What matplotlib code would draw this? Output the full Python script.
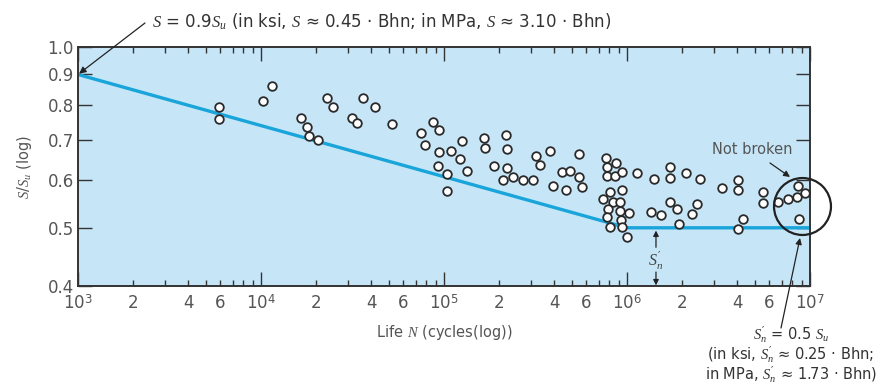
import math
import matplotlib
matplotlib.use("Agg")
import matplotlib.pyplot as plt
from matplotlib.ticker import FixedLocator, FuncFormatter, NullLocator

plt.rcParams["font.family"] = ["DejaVu Sans"]
plt.rcParams["mathtext.fontset"] = "custom"
plt.rcParams["mathtext.rm"] = "DejaVu Sans"
plt.rcParams["mathtext.it"] = "Liberation Serif:italic"

# test points: life N (cycles) and S/Su
life_N = [5.9e3, 5.9e3, 1.03e4, 1.15e4, 1.65e4, 1.78e4, 1.83e4, 2.04e4, 2.28e4, 2.48e4,
          3.13e4, 3.36e4, 3.59e4, 4.22e4, 5.2e4, 7.53e4, 7.87e4, 8.71e4, 9.35e4, 9.43e4,
          9.33e4, 1.04e5, 1.035e5, 1.09e5, 1.25e5, 1.23e5, 1.34e5, 1.65e5, 1.67e5, 1.88e5,
          2.18e5, 2.2e5, 2.21e5, 2.11e5, 2.39e5, 2.69e5, 3.05e5, 3.18e5, 3.35e5, 3.8e5,
          4.39e5, 4.91e5, 5.49e5, 5.5e5, 5.68e5, 3.96e5, 4.64e5, 7.68e5, 7.74e5, 8.71e5,
          7.78e5, 8.6e5, 9.43e5, 1.13e6, 8.12e5, 9.39e5, 7.35e5, 8.42e5, 9.16e5, 7.87e5,
          9.16e5, 1.02e6, 7.78e5, 9.3e5, 8.07e5, 9.43e5, 1.006e6, 1.4e6, 1.72e6, 1.72e6,
          2.1e6, 2.51e6, 1.36e6, 1.53e6, 1.72e6, 1.87e6, 2.4e6, 2.26e6, 1.93e6, 3.29e6,
          4.03e6, 4.03e6, 4.32e6, 4.03e6, 5.54e6, 5.54e6, 6.69e6, 7.58e6, 8.44e6, 8.55e6,
          9.39e6, 8.73e6]
s_ratio = [0.794, 0.759, 0.812, 0.860, 0.763, 0.737, 0.712, 0.699, 0.822, 0.795,
           0.763, 0.746, 0.822, 0.794, 0.743, 0.720, 0.686, 0.750, 0.728, 0.668,
           0.633, 0.614, 0.575, 0.672, 0.698, 0.650, 0.622, 0.706, 0.680, 0.633,
           0.713, 0.676, 0.628, 0.600, 0.608, 0.600, 0.600, 0.659, 0.636, 0.671,
           0.619, 0.622, 0.664, 0.608, 0.585, 0.587, 0.577, 0.653, 0.631, 0.640,
           0.611, 0.610, 0.619, 0.616, 0.574, 0.577, 0.558, 0.551, 0.552, 0.537,
           0.533, 0.530, 0.522, 0.516, 0.501, 0.501, 0.483, 0.604, 0.632, 0.606,
           0.616, 0.602, 0.532, 0.525, 0.552, 0.537, 0.548, 0.527, 0.507, 0.582,
           0.600, 0.578, 0.518, 0.498, 0.574, 0.549, 0.552, 0.558, 0.563, 0.586,
           0.571, 0.517]

# idealised S-N line
line_N = [1e3, 1e6, 1e7]
line_S = [0.9, 0.5, 0.5]

y_ticks = [0.4, 0.5, 0.6, 0.7, 0.8, 0.9, 1.0]
decades = [1e3, 1e4, 1e5, 1e6, 1e7]
minor_labels = (2, 4, 6)

W, H = 879, 387
def fp(x, y):
    # reference pixel (top-left origin) -> figure fraction
    return (x / W, 1 - y / H)

def mantissa(v):
    return int(round(v / 10 ** math.floor(math.log10(v) + 1e-9)))

fig = plt.figure(figsize=(W / 100, H / 100), dpi=100)
ax = fig.add_axes([78 / W, 1 - 286 / H, (810 - 78) / W, (286 - 47) / H])
ax.set_facecolor("#c6e6f8")

ax.plot(line_N, line_S, color="#1aa5da", lw=2.4, zorder=2)
ax.plot(life_N, s_ratio, "o", ms=6.2, mfc="white", mec="#2a2a2a", mew=1.3, zorder=3)

ax.set_xscale("log")
ax.set_yscale("log")
ax.set_xlim(1e3, 1e7)
ax.set_ylim(0.4, 1.0)

ax.xaxis.set_major_locator(FixedLocator(decades))
ax.xaxis.set_major_formatter(FuncFormatter(lambda v, p: r"$10^{%d}$" % round(math.log10(v))))
ax.xaxis.set_minor_locator(FixedLocator([m * d for d in decades[:-1] for m in range(2, 10)]))
ax.xaxis.set_minor_formatter(FuncFormatter(
    lambda v, p: str(mantissa(v)) if mantissa(v) in minor_labels else ""))

ax.yaxis.set_major_locator(FixedLocator(y_ticks))
ax.yaxis.set_major_formatter(FuncFormatter(lambda v, p: "%.1f" % v))
ax.yaxis.set_minor_locator(NullLocator())

ax.tick_params(which="both", direction="in", top=True, right=True, colors="#333333",
               labelcolor="#555555", labelsize=12, width=1.0)
ax.tick_params(axis="x", which="major", length=10, pad=6)
ax.tick_params(axis="x", which="minor", length=4.5, pad=6)
ax.tick_params(axis="y", which="major", length=10, pad=3)
for s in ax.spines.values():
    s.set_color("#333333")
    s.set_linewidth(1.4)

ax.set_xlabel("Life $N$ (cycles(log))", fontsize=10.5, color="#555555", labelpad=7)
ax.set_ylabel("$S/S_u$ (log)", fontsize=10.5, color="#555555", labelpad=10)

# top annotation
ax.annotate("", xy=(1e3, 0.9), xycoords="data", xytext=fp(145, 23), textcoords="figure fraction",
            arrowprops=dict(arrowstyle="-|>", color="#222222", lw=0.9, mutation_scale=10,
                            shrinkA=0, shrinkB=1), annotation_clip=False)
fig.text(*fp(152, 22), r"$S$ = 0.9$S_u$ (in ksi, $S$ ≈ 0.45 · Bhn; in MPa, $S$ ≈ 3.10 · Bhn)",
         fontsize=12, color="#333333", ha="left", va="center")

# not broken circle
ax.plot([9.0e6], [0.544], "o", ms=41, mfc="none", mec="#222222", mew=1.6, clip_on=False, zorder=4)
fig.text(*fp(752, 150), "Not broken", fontsize=10.5, color="#555555", ha="center", va="center")
ax.annotate("", xy=fp(790, 177), xycoords="figure fraction", xytext=fp(770, 163),
            textcoords="figure fraction",
            arrowprops=dict(arrowstyle="-|>", color="#222222", lw=0.9, mutation_scale=9,
                            shrinkA=0, shrinkB=0), annotation_clip=False)

# S'n markers
ax.annotate("", xy=(1.44e6, 0.5), xytext=(1.44e6, 0.464),
            arrowprops=dict(arrowstyle="-|>", color="#222222", lw=0.9, mutation_scale=8,
                            shrinkA=0, shrinkB=2))
ax.annotate("", xy=(1.44e6, 0.401), xytext=(1.44e6, 0.422),
            arrowprops=dict(arrowstyle="-|>", color="#222222", lw=0.9, mutation_scale=8,
                            shrinkA=0, shrinkB=0))
ax.text(1.44e6, 0.442, r"$S^{\prime}_n$", fontsize=11.5, color="#444444", ha="center", va="center")

# bottom right annotation
ax.annotate("", xy=fp(800, 238), xycoords="figure fraction", xytext=fp(781, 328),
            textcoords="figure fraction",
            arrowprops=dict(arrowstyle="-|>", color="#222222", lw=0.9, mutation_scale=9,
                            shrinkA=0, shrinkB=0), annotation_clip=False)
fig.text(*fp(877, 385),
         "$S^{\\prime}_n$ = 0.5 $S_u$\n(in ksi, $S^{\\prime}_n$ ≈ 0.25 · Bhn;\nin MPa, $S^{\\prime}_n$ ≈ 1.73 · Bhn)",
         fontsize=10.5, color="#333333", ha="right", va="bottom", multialignment="center",
         linespacing=0.95)

fig.savefig("out.png", dpi=100)
